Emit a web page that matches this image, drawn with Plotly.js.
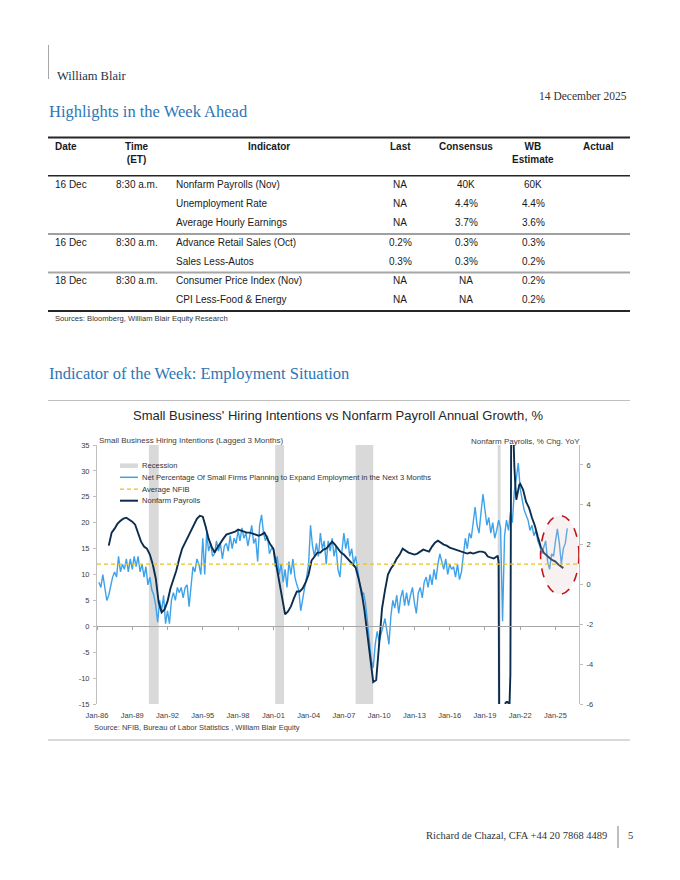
<!DOCTYPE html>
<html><head><meta charset="utf-8">
<script src="https://cdn.plot.ly/plotly-3.0.1.min.js"></script>
<style>html,body{margin:0;padding:0;background:#fff;}#page{width:680px;height:880px;}</style>
</head><body><div id="page"></div>
<script>
// ---------------- DATA ----------------
const reportFirm = 'William Blair';
const reportDate = '14 December 2025';
const heading1 = 'Highlights in the Week Ahead';
const heading2 = 'Indicator of the Week: Employment Situation';
const footerText = 'Richard de Chazal, CFA +44 20 7868 4489';
const pageNumber = '5';

const tableHeaders = ['Date', 'Time<br>(ET)', 'Indicator', 'Last', 'Consensus', 'WB<br>Estimate', 'Actual'];
const tableDates = ['16 Dec', '', '', '16 Dec', '', '18 Dec', ''];
const tableTimes = ['8:30 a.m.', '', '', '8:30 a.m.', '', '8:30 a.m.', ''];
const tableIndicators = ['Nonfarm Payrolls (Nov)', 'Unemployment Rate', 'Average Hourly Earnings',
  'Advance Retail Sales (Oct)', 'Sales Less-Autos', 'Consumer Price Index (Nov)', 'CPI Less-Food & Energy'];
const tableLast = ['NA', 'NA', 'NA', '0.2%', '0.3%', 'NA', 'NA'];
const tableConsensus = ['40K', '4.4%', '3.7%', '0.3%', '0.3%', 'NA', 'NA'];
const tableWB = ['60K', '4.4%', '3.6%', '0.3%', '0.2%', '0.2%', '0.2%'];
const tableActual = ['', '', '', '', '', '', ''];
const tableSource = 'Sources: Bloomberg, William Blair Equity Research';

const chartTitle = "Small Business' Hiring Intentions vs Nonfarm Payroll Annual Growth, %";
const leftAxisTitle = 'Small Business Hiring Intentions (Lagged 3 Months)';
const rightAxisTitle = 'Nonfarm Payrolls, % Chg. YoY';
const chartSource = 'Source: NFIB, Bureau of Labor Statistics , William Blair Equity';
const legendNames = ['Recession', 'Net Percentage Of Small Firms Planning to Expand Employment in the Next 3 Months', 'Average NFIB', 'Nonfarm Payrolls'];

const tickDates = ['1986-01-01','1989-01-01','1992-01-01','1995-01-01','1998-01-01','2001-01-01','2004-01-01',
  '2007-01-01','2010-01-01','2013-01-01','2016-01-01','2019-01-01','2022-01-01','2025-01-01'];
const tickLabels = ['Jan-86','Jan-89','Jan-92','Jan-95','Jan-98','Jan-01','Jan-04',
  'Jan-07','Jan-10','Jan-13','Jan-16','Jan-19','Jan-22','Jan-25'];
const xRange = ['1986-01-01', '2027-01-01'];
const leftRange = [-15, 35];
const leftTicks = [-15, -10, -5, 0, 5, 10, 15, 20, 25, 30, 35];
const leftTickLabels = ['-15', '-10', '-5', '0', '5', '10', '15', '20', '25', '30', '35'];
const rightRange = [-6, 7];
const rightTicks = [-6, -4, -2, 0, 2, 4, 6];
const rightTickLabels = ['-6', '-4', '-2', '0', '2', '4', '6'];

const recessionStart = ['1990-06-01', '2001-03-01', '2008-01-01', '2020-02-01'];
const recessionEnd = ['1991-04-01', '2001-12-01', '2009-07-01', '2020-05-01'];

const avgNFIB = 12;

// NFIB hiring plans (lagged 3 months), every 2 months from Mar-1986
const nfibStart = {year: 1986, monthIndex: 2};
const nfibStepMonths = 2;
const nfibValues = [
  8.5, 7.5, 10.0, 7.0, 5.0,            // 1986 Mar-Nov
  6.0, 8.0, 9.5, 10.5, 9.5, 13.5,      // 1987
  10.5, 12.0, 11.0, 13.0, 10.5, 13.0,  // 1988
  11.0, 13.5, 11.5, 13.5, 10.5, 12.0,  // 1989
  9.5, 11.5, 8.0, 9.5, 7.0, 6.0,       // 1990
  4.0, 0.8, 5.0, 3.0, 6.0, 0.5,        // 1991
  3.0, 0.5, 5.0, 6.5, 5.0, 7.5,        // 1992
  6.5, 7.5, 5.5, 7.5, 8.0, 3.8,        // 1993
  8.0, 11.5, 10.5, 13.0, 12.0, 10.0,   // 1994
  17.0, 10.0, 18.0, 14.5, 16.0, 13.5,  // 1995
  14.0, 16.5, 14.5, 16.0, 13.0, 15.5,  // 1996
  16.0, 14.5, 17.5, 15.0, 17.0, 16.0,  // 1997
  18.5, 16.5, 19.0, 17.0, 18.0, 15.5,  // 1998
  17.5, 19.5, 16.0, 17.0, 12.5, 19.5,  // 1999
  21.5, 18.0, 16.5, 17.5, 14.0, 15.0,  // 2000
  15.0, 11.5, 13.5, 10.0, 12.0, 8.5,   // 2001
  11.0, 7.5, 12.5, 10.0, 13.0, 9.5,    // 2002
  8.0, 7.0, 3.0, 5.5, 7.5, 9.5,        // 2003
  12.0, 19.5, 15.5, 13.5, 16.0, 13.5,  // 2004
  18.0, 15.0, 16.5, 12.0, 16.5, 14.5,  // 2005
  17.0, 13.5, 15.5, 11.0, 9.5, 14.5,   // 2006
  18.0, 15.0, 17.0, 13.5, 15.0, 12.0,  // 2007
  13.5, 11.0, 8.5, 6.0, 6.5, 4.5,      // 2008
  1.0, -3.5, -6.5, -8.0, -3.5, -1.0,   // 2009
  -3.0, -1.5, 0.0, 1.5, -1.0, -3.5,    // 2010
  2.0, 5.0, 3.5, 6.0, 2.5, 5.5,        // 2011
  7.0, 4.0, 6.5, 4.0, 6.0, 7.5,        // 2012
  4.5, 2.5, 6.5, 7.5, 5.5, 8.5,        // 2013
  9.5, 7.5, 10.0, 8.0, 11.0, 9.0,      // 2014
  12.0, 14.0, 12.5, 11.0, 13.0, 10.0,  // 2015
  12.0, 11.0, 11.5, 9.5, 12.0, 9.0,    // 2016
  10.5, 13.5, 17.0, 15.0, 18.0, 17.0,  // 2017
  20.0, 23.0, 19.5, 18.0, 22.0, 25.5,  // 2018
  22.5, 19.5, 21.0, 18.0, 20.0, 17.0,  // 2019
  18.5, 20.5, 19.0, 1.0, 17.5, 20.5,   // 2020
  18.5, 22.0, 20.0, 26.0, 28.5, 31.5,  // 2021
  26.5, 24.5, 22.5, 21.5, 20.5, 18.5,  // 2022
  19.5, 17.5, 18.5, 16.5, 15.5, 14.0,  // 2023
  15.5, 16.5, 12.5, 11.0, 14.0, 13.5,  // 2024
  16.5, 18.8, 16.0, 12.0, 15.0, 16.0,  // 2025
  18.9                                 // 2026 Jan
];

// Nonfarm payrolls, % chg YoY
const payDates = [
  '1987-01','1987-04','1987-07','1987-10', '1988-01','1988-04','1988-07','1988-10',
  '1989-01','1989-04','1989-07','1989-10', '1990-01','1990-04','1990-07','1990-10',
  '1991-01','1991-04','1991-07','1991-10', '1992-01','1992-04','1992-07','1992-10',
  '1993-01','1993-04','1993-07','1993-10', '1994-01','1994-04','1994-07','1994-10',
  '1995-01','1995-04','1995-07','1995-10', '1996-01','1996-04','1996-07','1996-10',
  '1997-01','1997-04','1997-07','1997-10', '1998-01','1998-04','1998-07','1998-10',
  '1999-01','1999-04','1999-07','1999-10', '2000-01','2000-04','2000-07','2000-10',
  '2001-01','2001-04','2001-07','2001-10', '2002-01','2002-04','2002-07','2002-10',
  '2003-01','2003-04','2003-07','2003-10', '2004-01','2004-04','2004-07','2004-10',
  '2005-01','2005-04','2005-07','2005-10', '2006-01','2006-04','2006-07','2006-10',
  '2007-01','2007-04','2007-07','2007-10', '2008-01','2008-04','2008-07','2008-10',
  '2009-01','2009-04','2009-07','2009-10', '2010-01','2010-04','2010-07','2010-10',
  '2011-01','2011-04','2011-07','2011-10', '2012-01','2012-04','2012-07','2012-10',
  '2013-01','2013-04','2013-07','2013-10', '2014-01','2014-04','2014-07','2014-10',
  '2015-01','2015-04','2015-07','2015-10', '2016-01','2016-04','2016-07','2016-10',
  '2017-01','2017-04','2017-07','2017-10', '2018-01','2018-04','2018-07','2018-10',
  '2019-01','2019-04','2019-07','2019-10',
  '2020-01','2020-02','2020-03','2020-04','2020-05','2020-06','2020-07','2020-08','2020-09','2020-10','2020-11','2020-12',
  '2021-01','2021-02','2021-03','2021-04','2021-05','2021-06','2021-07','2021-08','2021-09','2021-10','2021-11','2021-12',
  '2022-01','2022-04','2022-07','2022-10', '2023-01','2023-04','2023-07','2023-10',
  '2024-01','2024-04','2024-07','2024-10', '2025-01','2025-04','2025-07','2025-09'
];
const payValues = [
  1.95, 2.6, 2.8, 3.05,   3.2, 3.3, 3.35, 3.25,
  3.15, 3.0, 2.6, 2.15,   1.9, 1.8, 1.5, 1.0,
  0.3, -0.9, -1.4, -1.25, -0.85, -0.2, 0.25, 0.7,
  1.3, 1.8, 2.1, 2.4,     2.65, 3.0, 3.3, 3.45,
  3.4, 2.9, 2.3, 1.9,     1.6, 1.85, 2.1, 2.3,
  2.5, 2.55, 2.6, 2.65,   2.75, 2.7, 2.65, 2.6,
  2.6, 2.55, 2.5, 2.45,   2.5, 2.6, 2.3, 2.0,
  1.8, 1.0, 0.2, -0.6,    -1.5, -1.35, -1.1, -0.7,
  -0.35, -0.35, -0.2, 0.1, 0.5, 1.2, 1.4, 1.6,
  1.6, 1.75, 1.8, 1.95,   2.15, 2.0, 1.8, 1.6,
  1.5, 1.35, 1.2, 1.0,    0.85, 0.3, -0.35, -1.3,
  -2.6, -3.9, -4.9, -4.8, -2.9, -1.2, -0.3, 0.5,
  0.8, 1.0, 1.3, 1.5,     1.8, 1.7, 1.6, 1.55,
  1.5, 1.55, 1.65, 1.75,  1.7, 1.65, 1.9, 2.1,
  2.2, 2.1, 2.0, 1.95,    1.85, 1.8, 1.75, 1.7,
  1.65, 1.6, 1.55, 1.6,   1.55, 1.6, 1.65, 1.65,
  1.6, 1.4, 1.35, 1.3,
  1.4, 1.45, 1.1, -13.0, -11.0, -9.0, -8.0, -7.0, -6.5, -5.95, -5.9, -5.9,
  -5.95, -6.1, -4.5, 10.9, 9.4, 7.3, 6.0, 5.0, 4.25, 4.5, 4.8, 5.0,
  5.05, 4.75, 4.15, 3.85,  3.35, 2.95, 2.4, 1.9,
  1.6, 1.45, 1.33, 1.22,   1.15, 1.0, 0.88, 0.82
];

const highlightX = ['2023-09-25', '2027-01-01'];
const highlightY = [6.2, 21.4];

// ---------------- STYLE / LAYOUT ----------------
const W = 680, H = 880;
const PX = x => x / W;
const PY = y => 1 - y / H;
const SANS = '"Liberation Sans", Arial, sans-serif';
const SERIF = '"Liberation Serif", "Times New Roman", serif';
const C_BLUE = '#3ea2ea', C_NAVY = '#0c2d4e', C_YEL = '#e9c21a', C_REC = '#d9d9d9';

const nfibDates = nfibValues.map((v, i) => {
  const m = nfibStart.monthIndex + nfibStepMonths * i;
  const y = nfibStart.year + Math.floor(m / 12);
  return y + '-' + String((m % 12) + 1).padStart(2, '0') + '-01';
});

const ann = [];
function txt(x, y, s, o) {
  o = o || {};
  ann.push({xref: 'paper', yref: 'paper', x: PX(x), y: PY(y), text: s, showarrow: false,
    xanchor: o.xa || 'left', yanchor: o.ya || 'middle', align: o.align || 'left',
    font: {family: o.family || SANS, size: o.size || 10, color: o.color || '#1a1a1a'}});
}
const shapes = [];
function hline(x0, x1, y, color, w) {
  shapes.push({type: 'line', xref: 'paper', yref: 'paper', x0: PX(x0), x1: PX(x1), y0: PY(y), y1: PY(y),
    line: {color: color, width: w}});
}
function vline(x, y0, y1, color, w) {
  shapes.push({type: 'line', xref: 'paper', yref: 'paper', x0: PX(x), x1: PX(x), y0: PY(y0), y1: PY(y1),
    line: {color: color, width: w}});
}

// Header
vline(48.5, 45, 79, '#a6a6a6', 1);
txt(55, 76, reportFirm, {family: SERIF, size: 12.5, color: '#243447'});
txt(629, 95.5, reportDate, {family: SERIF, size: 11.5, color: '#333', xa: 'right'});
txt(47, 112, heading1, {family: SERIF, size: 16.5, color: '#2e75b6'});
txt(47, 373, heading2, {family: SERIF, size: 16.5, color: '#2e75b6'});

// Table
hline(48, 630, 137.5, '#262626', 2);
hline(48, 630, 175.8, '#262626', 1.5);
hline(48, 630, 234, '#404040', 1);
hline(48, 630, 272.5, '#a6a6a6', 2);
hline(48, 630, 311, '#262626', 2);
const colX = [53, 137, 269, 400, 466, 533, 598];
const colA = ['left', 'center', 'center', 'center', 'center', 'center', 'center'];
tableHeaders.forEach((h, i) => txt(colX[i], 139.5, '<b>' + h + '</b>', {xa: colA[i], ya: 'top', align: 'center', size: 10}));
const rowY = [184.5, 203.5, 222.5, 242.5, 261.5, 280.5, 299.5];
const rowCols = [
  [tableDates, 53, 'left'], [tableTimes, 114, 'left'], [tableIndicators, 174, 'left'],
  [tableLast, 400, 'center'], [tableConsensus, 466, 'center'], [tableWB, 533, 'center'], [tableActual, 598, 'center']
];
rowCols.forEach(([arr, x, a]) => arr.forEach((s, r) => { if (s) txt(x, rowY[r], s, {xa: a, size: 10}); }));
txt(53, 318.5, tableSource, {size: 7.6, color: '#333'});

// Chart frame & texts
hline(48, 630, 400.5, '#bfbfbf', 1);
hline(48, 630, 740, '#d9d9d9', 2);
txt(338, 416, chartTitle, {xa: 'center', size: 13, color: '#262626'});
txt(97, 440, leftAxisTitle, {size: 8, color: '#404040'});
txt(582, 441.5, rightAxisTitle, {xa: 'right', size: 8, color: '#404040'});
txt(92, 727.5, chartSource, {size: 7.5, color: '#404040'});

// Footer
txt(608.5, 835, footerText, {family: SERIF, size: 10.5, color: '#333', xa: 'right'});
vline(618, 826, 848, '#7f7f7f', 1);
txt(630, 835, pageNumber, {family: SERIF, size: 10.5, color: '#333', xa: 'center'});

// Recession bars (data x, full plot height)
recessionStart.forEach((s, i) => shapes.push({type: 'rect', xref: 'x', yref: 'y', x0: s, x1: recessionEnd[i],
  y0: leftRange[0], y1: leftRange[1], fillcolor: C_REC, line: {width: 0}, layer: 'below'}));

// Legend (white box + symbols + labels)
shapes.push({type: 'rect', xref: 'paper', yref: 'paper', x0: PX(113), x1: PX(446), y0: PY(507), y1: PY(460),
  fillcolor: '#ffffff', line: {width: 0}, layer: 'below'});
const legY = [465.7, 477.3, 489.2, 500.7];
shapes.push({type: 'rect', xref: 'paper', yref: 'paper', x0: PX(120), x1: PX(138), y0: PY(468), y1: PY(463.4),
  fillcolor: C_REC, line: {width: 0}});
shapes.push({type: 'line', xref: 'paper', yref: 'paper', x0: PX(120), x1: PX(138), y0: PY(legY[1]), y1: PY(legY[1]),
  line: {color: C_BLUE, width: 1.5}});
shapes.push({type: 'line', xref: 'paper', yref: 'paper', x0: PX(120), x1: PX(138), y0: PY(legY[2]), y1: PY(legY[2]),
  line: {color: C_YEL, width: 1.2, dash: '4px,3px'}});
shapes.push({type: 'line', xref: 'paper', yref: 'paper', x0: PX(120), x1: PX(138), y0: PY(legY[3]), y1: PY(legY[3]),
  line: {color: C_NAVY, width: 2}});
legendNames.forEach((n, i) => txt(140, legY[i], n, {size: 7.6, color: '#333'}));

// Highlight ellipse
shapes.push({type: 'circle', xref: 'x', yref: 'y', x0: highlightX[0], x1: highlightX[1], y0: highlightY[0], y1: highlightY[1],
  fillcolor: 'rgba(225,190,190,0.22)', line: {color: '#c0141c', width: 1.6, dash: 'dash'}, layer: 'above'});

const tickFont = {family: SANS, size: 7.5, color: '#404040'};
const traces = [
  {type: 'scatter', mode: 'lines', x: nfibDates, y: nfibValues, xaxis: 'x', yaxis: 'y',
    line: {color: C_BLUE, width: 1.4}, hoverinfo: 'skip', name: legendNames[1]},
  {type: 'scatter', mode: 'lines', x: xRange, y: [avgNFIB, avgNFIB], xaxis: 'x2', yaxis: 'y',
    line: {color: C_YEL, width: 1.2, dash: '4px,3px'}, hoverinfo: 'skip', name: legendNames[2]},
  {type: 'scatter', mode: 'lines', x: payDates, y: payValues, xaxis: 'x', yaxis: 'y2',
    line: {color: C_NAVY, width: 1.9}, hoverinfo: 'skip', name: legendNames[3]}
];

const layout = {
  width: W, height: H, margin: {l: 0, r: 0, t: 0, b: 0}, showlegend: false,
  paper_bgcolor: '#ffffff', plot_bgcolor: 'rgba(0,0,0,0)',
  xaxis: {type: 'date', domain: [PX(97), PX(579)], range: xRange, anchor: 'y',
    tickmode: 'array', tickvals: tickDates, ticktext: tickLabels, ticks: 'outside', ticklen: 4,
    tickcolor: 'rgba(0,0,0,0)', showline: false, showgrid: false, zeroline: false, tickfont: tickFont},
  xaxis2: {type: 'date', overlaying: 'x', range: xRange, anchor: 'free', position: PY(626),
    tickmode: 'array', tickvals: tickDates, ticks: 'outside', ticklen: 3, tickcolor: '#a6a6a6',
    showticklabels: false, showline: true, linecolor: '#a6a6a6', linewidth: 1, showgrid: false, zeroline: false},
  yaxis: {domain: [PY(704), PY(445)], range: leftRange, anchor: 'x', tickmode: 'array', tickvals: leftTicks,
    ticktext: leftTickLabels,
    ticks: 'outside', ticklen: 3, tickcolor: '#bfbfbf', showline: true, linecolor: '#bfbfbf', linewidth: 1,
    showgrid: false, zeroline: false, tickfont: tickFont, ticklabelstandoff: 2},
  yaxis2: {overlaying: 'y', side: 'right', anchor: 'x', range: rightRange, tickmode: 'array', tickvals: rightTicks,
    ticktext: rightTickLabels,
    ticks: 'outside', ticklen: 3, tickcolor: '#bfbfbf', showline: true, linecolor: '#bfbfbf', linewidth: 1,
    showgrid: false, zeroline: false, tickfont: tickFont, ticklabelstandoff: 2},
  shapes: shapes,
  annotations: ann
};

Plotly.newPlot('page', traces, layout, {displayModeBar: false, staticPlot: true});
</script></body></html>
